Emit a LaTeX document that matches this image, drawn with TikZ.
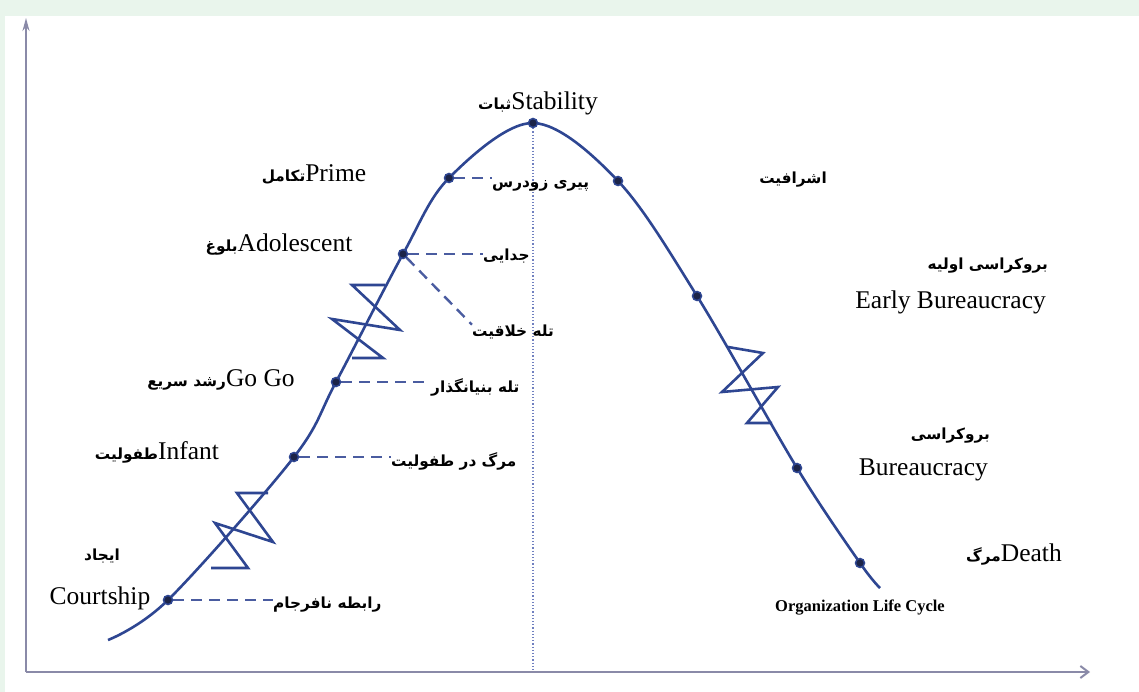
\documentclass[tikz,border=0pt]{standalone}
\usepackage{fontspec}
\setmainfont{Liberation Serif}
\newfontfamily\pfont[Script=Arabic]{DejaVu Sans}
\TeXXeTstate=1
\newcommand\fa[1]{{\fontsize{15.3}{19}\pfont\bfseries\beginR #1\endR}}
\usetikzlibrary{arrows.meta}
\definecolor{curvec}{HTML}{2E4692}
\definecolor{dashc}{HTML}{4A5CA0}
\definecolor{axisc}{HTML}{8A8AA8}
\definecolor{bgc}{HTML}{E9F5EC}
\definecolor{dotc}{HTML}{7080C0}
\definecolor{markc}{HTML}{1C2448}
\begin{document}
\begin{tikzpicture}[x=1pt,y=-1pt,
  en/.style={font=\fontsize{25.5}{29}\selectfont, inner sep=0pt, text=black},
  pe/.style={inner sep=0pt, text=black},
  stage/.style={circle, minimum size=10pt, inner sep=0pt},
  dot/.style={fill=markc, draw=curvec, line width=1.5pt},
  curve/.style={draw=curvec, line width=2.6pt, line join=round},
  spring/.style={draw=curvec, line width=2.6pt, line join=miter},
  trap/.style={draw=dashc, line width=2.4pt, dash pattern=on 11pt off 7pt},
  axis/.style={draw=axisc, line width=2pt},
]
\fill[bgc] (0,0) rectangle (1139,692);
\fill[white] (5,16) rectangle (1139,692);

% axes
\coordinate (O) at (26,672);
\coordinate (ytop) at (26,18);
\coordinate (xend) at (1090,672);
\draw[axis,-{Stealth[length=13pt,width=7pt]}] (O) -- (ytop);
\draw[axis,-{Straight Barb[length=8pt,width=12pt]}] (O) -- (xend);

% stage points (positions)
\node[stage] (court) at (168,600) {};
\node[stage] (inf) at (294,457) {};
\node[stage] (gogo) at (336,382) {};
\node[stage] (adol) at (403,254) {};
\node[stage] (prime) at (449,178) {};
\node[stage] (stab) at (533,123) {};
\node[stage] (aris) at (618,181) {};
\node[stage] (ebur) at (697,296) {};
\node[stage] (bur) at (797,468) {};
\node[stage] (death) at (860,563) {};

% vertical dotted line from the peak
\draw[dotc, dotted, line width=1.2pt] (stab) -- (stab |- O);

% life-cycle curve
\draw[curve] plot[smooth, tension=0.55] coordinates {
  (108,640) (168,600) (294,457) (336,382) (403,254) (449,178) (533,123)
  (618,181) (697,296) (797,468) (860,563) (880,588)};

% springs (zigzags)
\draw[spring] (268,493) -- (237,493) -- (273,542) -- (215,523) -- (248,568) -- (211,568);
\draw[spring] (385,285) -- (352,285) -- (400,330) -- (332,319) -- (383,358) -- (352,358);
\draw[spring] (728,347) -- (763,353) -- (722,392) -- (778,387) -- (747,423) -- (772,423);

% stage labels
\node[en] (lstab) at (538,103) {\fa{ثبات}Stability};
\node[en] (lprime) at (314,174) {\fa{تکامل}Prime};
\node[en] (ladol) at (279,245) {\fa{بلوغ}Adolescent};
\node[en] (lgogo) at (221,380) {\fa{رشد سریع}Go Go};
\node[en] (linf) at (157,452) {\fa{طفولیت}Infant};
\node[pe] (lcourtfa) at (102,556) {\fa{ایجاد}};
\node[en] (lcourt) at (100,598) {Courtship};
\node[pe] (laris) at (793,180) {\fa{اشرافیت}};
\node[pe, anchor=east] (lebfa) at (1048,266) {\fa{بروکراسی اولیه}};
\node[en, anchor=east] (lebur) at (1046,302) {Early Bureaucracy};
\node[pe, anchor=east] (lburfa) at (990,436) {\fa{بروکراسی}};
\node[en, anchor=east] (lbur) at (988,470) {Bureaucracy};
\node[en] (ldeath) at (1014,555) {\fa{مرگ}Death};
\node[font=\bfseries\fontsize{16.5}{18}\selectfont, inner sep=0pt] (title) at (860,608) {Organization Life Cycle};

% trap labels
\node[pe, anchor=west] (tpz) at (492,186) {\fa{پیری زودرس}};
\node[pe, anchor=west] (tjd) at (483,256) {\fa{جدایی}};
\node[pe] (ttk) at (513,332) {\fa{تله خلاقیت}};
\node[pe, anchor=west] (tbn) at (431,387) {\fa{تله بنیانگذار}};
\node[pe, anchor=west] (tmt) at (391,461) {\fa{مرگ در طفولیت}};
\node[pe, anchor=west] (trn) at (273,605) {\fa{رابطه نافرجام}};

% trap connectors
\draw[trap] (prime) -- (prime -| tpz.west);
\draw[trap] (adol) -- (adol -| tjd.west);
\draw[trap] (adol) -- (ttk.north west);
\draw[trap] (gogo) -- (gogo -| tbn.west);
\draw[trap] (inf) -- (inf -| tmt.west);
\draw[trap] (court) -- (court -| trn.west);

% stage markers on top
\foreach \p in {court,inf,gogo,adol,prime,stab,aris,ebur,bur,death}
  \filldraw[dot] (\p) circle (4.5pt);
\end{tikzpicture}
\end{document}
